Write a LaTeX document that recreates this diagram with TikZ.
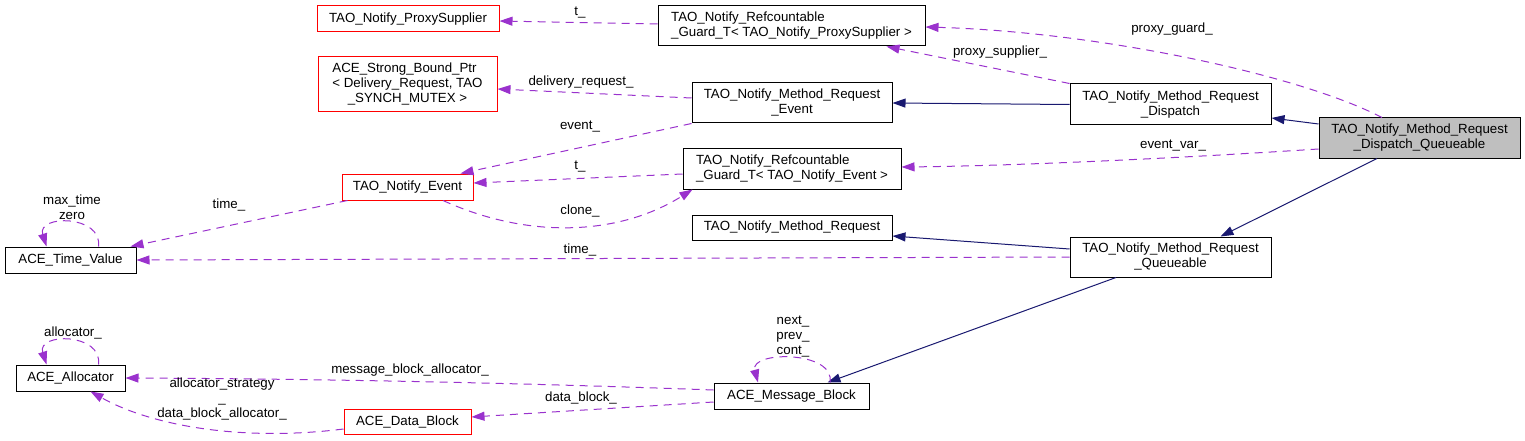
\documentclass[tikz,border=0pt]{standalone}
\usepackage{fontspec}
\setmainfont{Liberation Sans}
\usetikzlibrary{arrows.meta,calc}

\newlength{\du}
\setlength{\du}{1pt}
\newcommand{\dotfont}{\fontsize{13.3}{15}\selectfont}

\definecolor{navyline}{RGB}{25,25,112}
\definecolor{orchidline}{RGB}{154,50,205}
\definecolor{nodegray}{RGB}{191,191,191}

\tikzset{
  cls/.style={draw=black, line width=1\du, fill=white, inner sep=0pt, font=\dotfont, align=center},
  clsred/.style={cls, draw=red},
  clsgray/.style={cls, fill=nodegray},
  derive/.style={draw=navyline, line width=1\du, -{Triangle[length=13pt,width=9pt]}},
  member/.style={draw=orchidline, line width=1\du, dash pattern=on 8\du off 6\du, -{Triangle[length=13pt,width=9pt]}},
  lbl/.style={font=\dotfont, inner sep=0pt, align=center},
}

\begin{document}
\begin{tikzpicture}[x=\du, y=-\du]
\useasboundingbox (0,0) rectangle (1525,441);
% classes
\node[clsred, minimum width=182\du, minimum height=26\du] (ps) at (408,19) {TAO\_Notify\_ProxySupplier};
\node[clsred, minimum width=179\du, minimum height=55\du] (sbp) at (407.5,84.5) {\begin{tabular}{@{}l@{}}ACE\_Strong\_Bound\_Ptr\\< Delivery\_Request, TAO\\\multicolumn{1}{@{}c@{}}{\_SYNCH\_MUTEX >}\end{tabular}};
\node[clsred, minimum width=131\du, minimum height=26\du] (ev) at (407.5,187) {TAO\_Notify\_Event};
\node[cls, align=left, minimum width=267\du, minimum height=40\du] (gps) at (791.5,26) {TAO\_Notify\_Refcountable\\\_Guard\_T< TAO\_Notify\_ProxySupplier >};
\node[cls, minimum width=200\du, minimum height=40\du] (mre) at (792,103) {TAO\_Notify\_Method\_Request\\\_Event};
\node[cls, align=left, minimum width=218\du, minimum height=41\du] (gev) at (792,168.5) {TAO\_Notify\_Refcountable\\\_Guard\_T< TAO\_Notify\_Event >};
\node[cls, minimum width=200\du, minimum height=25\du] (mr) at (792,227.5) {TAO\_Notify\_Method\_Request};
\node[cls, minimum width=201\du, minimum height=41\du] (mrd) at (1170.5,104.5) {TAO\_Notify\_Method\_Request\\\_Dispatch};
\node[clsgray, minimum width=201\du, minimum height=40\du] (dq) at (1419.5,138) {TAO\_Notify\_Method\_Request\\\_Dispatch\_Queueable};
\node[cls, minimum width=201\du, minimum height=40\du] (mrq) at (1170.5,257) {TAO\_Notify\_Method\_Request\\\_Queueable};
\node[cls, minimum width=131\du, minimum height=26\du] (tv) at (70.5,260) {ACE\_Time\_Value};
\node[cls, minimum width=109\du, minimum height=26\du] (al) at (70.5,378) {ACE\_Allocator};
\node[clsred, minimum width=127\du, minimum height=25\du] (db) at (407.5,421.5) {ACE\_Data\_Block};
\node[cls, minimum width=155\du, minimum height=26\du] (mb) at (791.5,396) {ACE\_Message\_Block};
% inheritance
\draw[derive] ($(dq.west)+(0,-14)$) -- ($(mrd.east)+(0,13.5)$);
\draw[derive] (mrd.west) -- (mre.east);
\draw[derive] ($(dq.south)+(-42.5,0)$) -- ($(mrq.north)+(50,0)$);
\draw[derive] ($(mrq.west)+(0,-8)$) -- ($(mr.east)+(0,8.5)$);
\draw[derive] ($(mrq.south)+(-54.5,0)$) -- ($(mb.north)+(36,0)$);
% members
\draw[member] ($(dq.north)+(-37.5,0)$) .. controls (1300,75) and (1100,32) .. ($(gps.east)+(0,1)$);
\draw[member] (mrd.north west) -- ($(gps.south)+(95,0)$);
\draw[member] ($(gps.west)+(0,-2)$) -- ($(ps.east)+(0,2)$);
\draw[member] ($(mre.west)+(0,-5)$) -- ($(sbp.east)+(0,4.5)$);
\draw[member] (mre.south west) -- ($(ev.north east)+(-13,0)$);
\draw[member] ($(gev.west)+(0,5.5)$) -- ($(ev.east)+(0,-4)$);
\draw[member] ($(dq.west)+(0,11)$) .. controls (1150,160) and (1000,166) .. ($(gev.east)+(0,-1.5)$);
\draw[member] ($(ev.south)+(35.5,0)$) .. controls (530,240) and (620,235) .. ($(gev.south west)+(10,0)$);
\draw[member] ($(ev.south west)+(6,0)$) -- ($(tv.north east)+(-6,0)$);
\draw[member] (mrq.west) -- (tv.east);
\draw[member] ($(tv.north)+(28,0)$) .. controls ($(tv.north)+(32,-32)$) and ($(tv.north)+(-34,-32)$) .. ($(tv.north)+(-24,0)$);
\draw[member] ($(al.north)+(28,0)$) .. controls ($(al.north)+(32,-32)$) and ($(al.north)+(-34,-32)$) .. ($(al.north)+(-24,0)$);
\draw[member] ($(mb.west)+(0,-6)$) .. controls (550,384) and (350,379) .. (al.east);
\draw[member] ($(db.west)+(0,7.5)$) .. controls (240,442) and (150,425) .. ($(al.south)+(20,0)$);
\draw[member] ($(mb.west)+(0,6)$) -- ($(db.east)+(0,-4.5)$);
\draw[member] ($(mb.north)+(38.5,0)$) .. controls ($(mb.north)+(44,-32)$) and ($(mb.north)+(-42,-32)$) .. ($(mb.north)+(-33.5,0)$);
% labels
\node[lbl] (lt_ps) at (580,13) {t\_};
\node[lbl] (lproxyguard) at (1172,29) {proxy\_guard\_};
\node[lbl] (lproxysupplier) at (1000,52) {proxy\_supplier\_};
\node[lbl] (ldelivery) at (581,82) {delivery\_request\_};
\node[lbl] (levent) at (580,127) {event\_};
\node[lbl] (lt_ev) at (580,167) {t\_};
\node[lbl] (lclone) at (580,211) {clone\_};
\node[lbl] (leventvar) at (1173,146) {event\_var\_};
\node[lbl] (ltime_ev) at (229,205) {time\_};
\node[lbl] (lmaxtime) at (72,207.5) {max\_time\\zero};
\node[lbl] (ltime_mrq) at (580,250) {time\_};
\node[lbl] (lallocator) at (73,333) {allocator\_};
\node[lbl] (lmballoc) at (410,370) {message\_block\_allocator\_};
\node[lbl] (ldballoc) at (222,399) {allocator\_strategy\\\_\\data\_block\_allocator\_};
\node[lbl] (ldatablock) at (581,398) {data\_block\_};
\node[lbl] (lnext) at (793,336.5) {next\_\\prev\_\\cont\_};
\end{tikzpicture}
\end{document}
